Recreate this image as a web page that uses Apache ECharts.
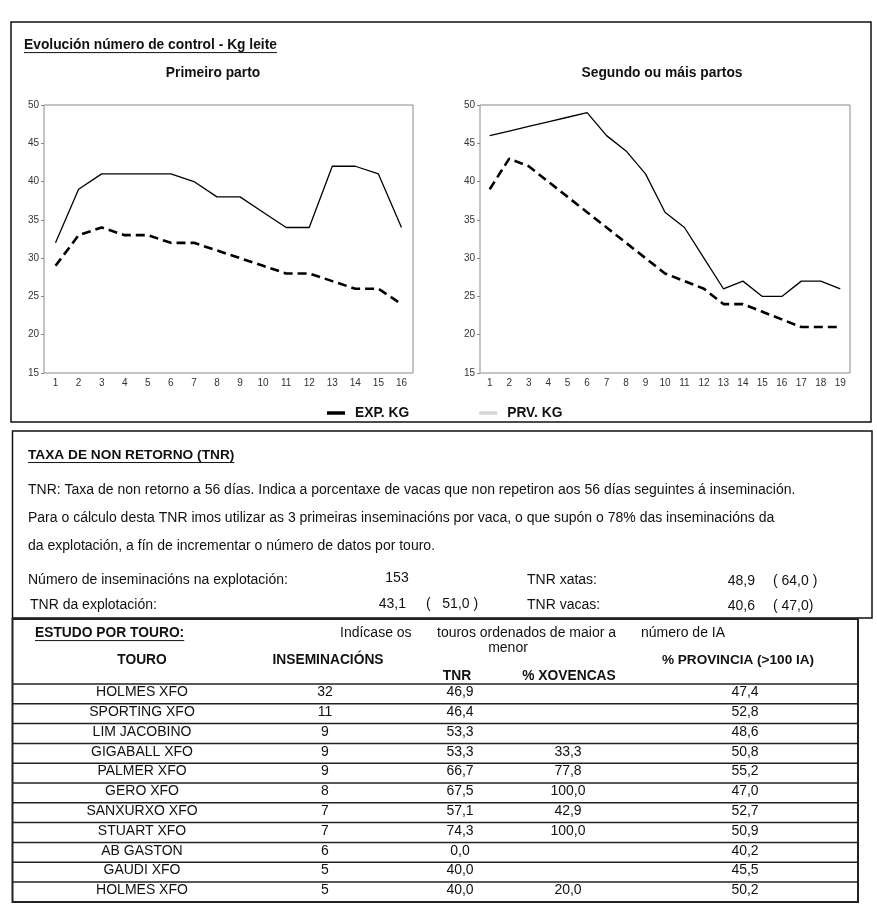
<!DOCTYPE html>
<html>
<head>
<meta charset="utf-8">
<script src="https://cdn.jsdelivr.net/npm/echarts@6/dist/echarts.min.js"></script>
<style>
html,body{margin:0;padding:0;background:#fff;}
#c{width:877px;height:917px;}
</style>
</head>
<body>
<div id="c"></div>
<script>
// ---------- DATA ----------
const controls1 = ['1','2','3','4','5','6','7','8','9','10','11','12','13','14','15','16'];
const exp1 = [29, 33, 34, 33, 33, 32, 32, 31, 30, 29, 28, 28, 27, 26, 26, 24];
const prv1 = [32, 39, 41, 41, 41, 41, 40, 38, 38, 36, 34, 34, 42, 42, 41, 34];

const controls2 = ['1','2','3','4','5','6','7','8','9','10','11','12','13','14','15','16','17','18','19'];
const exp2 = [39, 43, 42, 40, 38, 36, 34, 32, 30, 28, 27, 26, 24, 24, 23, 22, 21, 21, 21];
const prv2 = [46, 46.6, 47.2, 47.8, 48.4, 49, 46, 44, 41, 36, 34, 30, 26, 27, 25, 25, 27, 27, 26];

const seriesNames = ['EXP. KG', 'PRV. KG'];

const inseminacionsExplotacion = 153;
const tnrExplotacion = [43.1, 51.0];
const tnrXatas = [48.9, 64.0];
const tnrVacas = [40.6, 47.0];

const touros = ['HOLMES XFO','SPORTING XFO','LIM JACOBINO','GIGABALL XFO','PALMER XFO','GERO XFO','SANXURXO XFO','STUART XFO','AB GASTON','GAUDI XFO','HOLMES XFO'];
const inseminacions = [32, 11, 9, 9, 9, 8, 7, 7, 6, 5, 5];
const tnrTouro = [46.9, 46.4, 53.3, 53.3, 66.7, 67.5, 57.1, 74.3, 0.0, 40.0, 40.0];
const xovencas = [null, null, null, 33.3, 77.8, 100.0, 42.9, 100.0, null, null, 20.0];
const provincia = [47.4, 52.8, 48.6, 50.8, 55.2, 47.0, 52.7, 50.9, 40.2, 45.5, 50.2];

// ---------- HELPERS ----------
const FF = '"Liberation Sans", Arial, sans-serif';
const fmt = v => v == null ? '' : v.toFixed(1).replace('.', ',');
const mctx = document.createElement('canvas').getContext('2d');
function tw(text, font) { mctx.font = font; return mctx.measureText(text).width; }

const G = [];
function rect(x, y, w, h, lw, color) {
  G.push({type:'rect', silent:true, shape:{x, y, width:w, height:h}, style:{fill:'none', stroke:color||'#000', lineWidth:lw}});
}
function line(x1, y1, x2, y2, lw, color) {
  G.push({type:'line', silent:true, shape:{x1, y1, x2, y2}, style:{stroke:color||'#000', lineWidth:lw}});
}
function text(t, x, y, size, weight, align, underline) {
  const font = (weight||'normal') + ' ' + size + 'px ' + FF;
  G.push({type:'text', silent:true, style:{text:t, x, y, font, fill:'#111',
    textAlign:align||'left', align:align||'left', textVerticalAlign:'middle', verticalAlign:'middle'}});
  if (underline) {
    const w = tw(t, font);
    let x0 = x;
    if (align === 'center') x0 = x - w/2; else if (align === 'right') x0 = x - w;
    line(x0, y + size*0.55, x0 + w, y + size*0.55, 1, '#111');
  }
}

// ---------- BOXES ----------
rect(11, 22, 860, 400, 1.5, '#111');
rect(12.5, 431, 859.5, 187, 1.5, '#111');
rect(12.5, 619, 845.5, 283, 2, '#222');

text('Evolución número de control - Kg leite', 24, 45, 13.8, 'bold', 'left', true);
text('Primeiro parto', 213, 73, 13.8, 'bold', 'center');
text('Segundo ou máis partos', 662, 73, 13.8, 'bold', 'center');

// Box 2 texts
text('TAXA DE NON RETORNO (TNR)', 28, 455, 13.7, 'bold', 'left', true);
text('TNR: Taxa de non retorno a 56 días. Indica a porcentaxe de vacas que non repetiron aos 56 días seguintes á inseminación.', 28, 490, 14, 'normal', 'left');
text('Para o cálculo desta TNR imos utilizar as 3 primeiras inseminacións por vaca, o que supón o 78% das inseminacións da', 28, 518, 14, 'normal', 'left');
text('da explotación, a fín de incrementar o número de datos por touro.', 28, 546, 14, 'normal', 'left');
text('Número de inseminacións na explotación:', 28, 580, 14, 'normal', 'left');
text(String(inseminacionsExplotacion), 397, 578, 14, 'normal', 'center');
text('TNR xatas:', 527, 580, 14, 'normal', 'left');
text(fmt(tnrXatas[0]), 755, 581, 14, 'normal', 'right');
text('( ' + fmt(tnrXatas[1]) + ' )', 773, 581, 14, 'normal', 'left');
text('TNR da explotación:', 30, 605, 14, 'normal', 'left');
text(fmt(tnrExplotacion[0]), 406, 604, 14, 'normal', 'right');
text('(   ' + fmt(tnrExplotacion[1]) + ' )', 426, 604, 14, 'normal', 'left');
text('TNR vacas:', 527, 605, 14, 'normal', 'left');
text(fmt(tnrVacas[0]), 755, 606, 14, 'normal', 'right');
text('( ' + fmt(tnrVacas[1]) + ')', 773, 606, 14, 'normal', 'left');

// Table header
text('ESTUDO POR TOURO:', 35, 633, 13.8, 'bold', 'left', true);
text('Indícase os', 340, 633, 14, 'normal', 'left');
text('touros ordenados de maior a', 437, 633, 14, 'normal', 'left');
text('menor', 508, 648, 14, 'normal', 'center');
text('número de IA', 641, 633, 14, 'normal', 'left');
text('TOURO', 142, 660, 13.8, 'bold', 'center');
text('INSEMINACIÓNS', 328, 660, 13.8, 'bold', 'center');
text('% PROVINCIA (>100 IA)', 738, 660, 13.6, 'bold', 'center');
text('TNR', 457, 676, 13.8, 'bold', 'center');
text('% XOVENCAS', 569, 676, 13.8, 'bold', 'center');

const headBottom = 684, rowH = 19.8;
for (let i = 0; i < touros.length; i++) {
  line(12.5, headBottom + i*rowH, 858, headBottom + i*rowH, 1.5, '#222');
  const cy = headBottom + (i + 0.5)*rowH - 1.5;
  text(touros[i], 142, cy, 14, 'normal', 'center');
  text(String(inseminacions[i]), 325, cy, 14, 'normal', 'center');
  text(fmt(tnrTouro[i]), 460, cy, 14, 'normal', 'center');
  text(fmt(xovencas[i]), 568, cy, 14, 'normal', 'center');
  text(fmt(provincia[i]), 745, cy, 14, 'normal', 'center');
}

// ---------- CHART ----------
const axisLabelStyle = {color:'#333', fontSize:10, fontFamily:FF};
function xAx(idx, cats) {
  return {type:'category', gridIndex:idx, data:cats, boundaryGap:true,
    axisLine:{show:false}, axisTick:{show:false},
    axisLabel:Object.assign({margin:5, interval:0}, axisLabelStyle)};
}
function yAx(idx) {
  return {type:'value', gridIndex:idx, min:15, max:50, interval:5,
    axisLine:{show:false}, axisTick:{show:true, length:3, lineStyle:{color:'#888'}},
    splitLine:{show:false},
    axisLabel:Object.assign({margin:5}, axisLabelStyle)};
}
function ser(name, idx, data, dashed) {
  return {type:'line', name, xAxisIndex:idx, yAxisIndex:idx, data,
    symbol:'none', smooth:false, silent:true, animation:false,
    lineStyle: dashed ? {color:'#000', width:2.6, type:[9,5]} : {color:'#000', width:1.3},
    itemStyle:{color:'#000'}};
}

const chart = echarts.init(document.getElementById('c'), null, {renderer:'canvas'});
chart.setOption({
  animation:false,
  backgroundColor:'#fff',
  grid:[
    {left:44, top:105, width:369, height:268, show:true, borderColor:'#8a8a8a', borderWidth:1, containLabel:false},
    {left:480, top:105, width:370, height:268, show:true, borderColor:'#8a8a8a', borderWidth:1, containLabel:false}
  ],
  xAxis:[xAx(0, controls1), xAx(1, controls2)],
  yAxis:[yAx(0), yAx(1)],
  legend:{
    left:327, top:406, padding:0, itemWidth:18, itemHeight:3.5, itemGap:70, selectedMode:false,
    textStyle:{fontFamily:FF, fontSize:13.8, fontWeight:'bold', color:'#111', padding:[0,0,0,5]},
    data:[
      {name:seriesNames[0], icon:'rect', itemStyle:{color:'#000'}},
      {name:seriesNames[1], icon:'rect', itemStyle:{color:'#d4d4d4'}}
    ]
  },
  series:[
    ser(seriesNames[0], 0, exp1, true),
    ser(seriesNames[1], 0, prv1, false),
    ser(seriesNames[0], 1, exp2, true),
    ser(seriesNames[1], 1, prv2, false)
  ],
  graphic:G
});
</script>
</body>
</html>
